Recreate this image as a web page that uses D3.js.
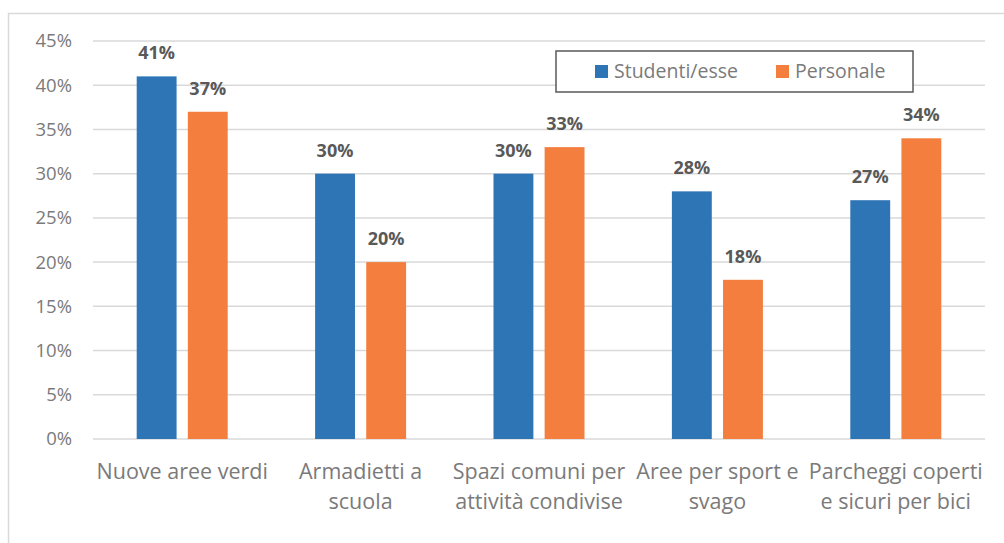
<!DOCTYPE html>
<html>
<head>
<meta charset="utf-8">
<script src="https://cdn.jsdelivr.net/npm/d3@7"></script>
<style>
  body { margin: 0; background: #fff; }
  svg text { font-family: "Open Sans", "Noto Sans", sans-serif; }
</style>
</head>
<body>
<svg id="chart"></svg>
<script>
var screen = {width: 1004, height: 543}
var margin = {top: 41, right: 19, bottom: 104, left: 93}

// data
var categories = [
    ["Nuove aree verdi"],
    ["Armadietti a", "scuola"],
    ["Spazi comuni per", "attività condivise"],
    ["Aree per sport e", "svago"],
    ["Parcheggi coperti", "e sicuri per bici"]
]
var seriesNames = ["Studenti/esse", "Personale"]
var studenti = [41, 30, 30, 28, 27]
var personale = [37, 20, 33, 18, 34]
var yTicks = [0, 5, 10, 15, 20, 25, 30, 35, 40, 45]
var colors = ["#2e75b6", "#f47e3e"]

var width = screen.width - margin.left - margin.right
var height = screen.height - margin.top - margin.bottom

var svg = d3.select("#chart")
    .attr("width", screen.width)
    .attr("height", screen.height)

// outer frame
svg.append("rect")
    .attr("x", 8.5).attr("y", 13.5)
    .attr("width", 1010).attr("height", 540)
    .attr("fill", "none")
    .attr("stroke", "#d9d9d9")
    .attr("stroke-width", 1.5)

var g = svg.append("g")
    .attr("transform", "translate(" + margin.left + "," + margin.top + ")")

var xScale = d3.scaleBand()
    .domain(d3.range(categories.length))
    .range([0, width])

var xInner = d3.scaleBand()
    .domain([0, 1])
    .range([xScale.bandwidth() / 2 - 45.5, xScale.bandwidth() / 2 + 45.5])
    .paddingInner(0.22)

var yScale = d3.scaleLinear()
    .domain([0, 45])
    .range([height, 0])

// gridlines
g.append("g")
    .selectAll("line")
    .data(yTicks)
    .enter()
    .append("line")
    .attr("x1", 0)
    .attr("x2", width)
    .attr("y1", function(d) { return yScale(d) })
    .attr("y2", function(d) { return yScale(d) })
    .attr("stroke", "#d9d9d9")
    .attr("stroke-width", 1.5)

// y axis
var yAxis = d3.axisLeft(yScale)
    .tickValues(yTicks)
    .tickFormat(function(d) { return d + "%" })
    .tickSize(0)
    .tickPadding(21)

g.append("g")
    .attr("class", "yaxis")
    .call(yAxis)
    .call(function(a) { a.select(".domain").remove() })
    .selectAll("text")
    .attr("font-size", 18.5)
    .attr("fill", "#7a7a7a")

var rows = categories.map(function(c, i) {
    return [studenti[i], personale[i]]
})

var groups = g.selectAll(".grp")
    .data(rows)
    .enter()
    .append("g")
    .attr("class", "grp")
    .attr("transform", function(d, i) { return "translate(" + xScale(i) + ",0)" })

groups.selectAll("rect")
    .data(function(d) { return d })
    .enter()
    .append("rect")
    .attr("x", function(d, j) { return xInner(j) })
    .attr("width", xInner.bandwidth())
    .attr("y", function(d) { return yScale(d) })
    .attr("height", function(d) { return height - yScale(d) })
    .attr("fill", function(d, j) { return colors[j] })

groups.selectAll(".lbl")
    .data(function(d) { return d })
    .enter()
    .append("text")
    .attr("class", "lbl")
    .attr("x", function(d, j) { return xInner(j) + xInner.bandwidth() / 2 })
    .attr("y", function(d) { return yScale(d) - 17 })
    .attr("text-anchor", "middle")
    .attr("font-size", 18)
    .attr("font-weight", "bold")
    .attr("fill", "#595959")
    .text(function(d) { return d + "%" })

// category labels
var cat = g.selectAll(".cat")
    .data(categories)
    .enter()
    .append("text")
    .attr("class", "cat")
    .attr("x", function(d, i) { return xScale(i) + xScale.bandwidth() / 2 })
    .attr("y", height + 40)
    .attr("text-anchor", "middle")
    .attr("font-size", 21.5)
    .attr("fill", "#7a7a7a")

cat.selectAll("tspan")
    .data(function(d) { return d })
    .enter()
    .append("tspan")
    .attr("x", function() { return d3.select(this.parentNode).attr("x") })
    .attr("dy", function(d, k) { return k == 0 ? 0 : 30 })
    .text(function(d) { return d })

// legend
var legend = svg.append("g")
    .attr("transform", "translate(556,51)")

legend.append("rect")
    .attr("width", 357)
    .attr("height", 41)
    .attr("fill", "#fff")
    .attr("stroke", "#595959")
    .attr("stroke-width", 1.5)

var legendX = [39, 220]
var items = legend.selectAll(".item")
    .data(seriesNames)
    .enter()
    .append("g")
    .attr("class", "item")
    .attr("transform", function(d, i) { return "translate(" + legendX[i] + ",0)" })

items.append("rect")
    .attr("y", 14)
    .attr("width", 13)
    .attr("height", 13)
    .attr("fill", function(d, i) { return colors[i] })

items.append("text")
    .attr("x", 19)
    .attr("y", 27)
    .attr("font-size", 19.5)
    .attr("fill", "#7a7a7a")
    .text(function(d) { return d })
</script>
</body>
</html>
